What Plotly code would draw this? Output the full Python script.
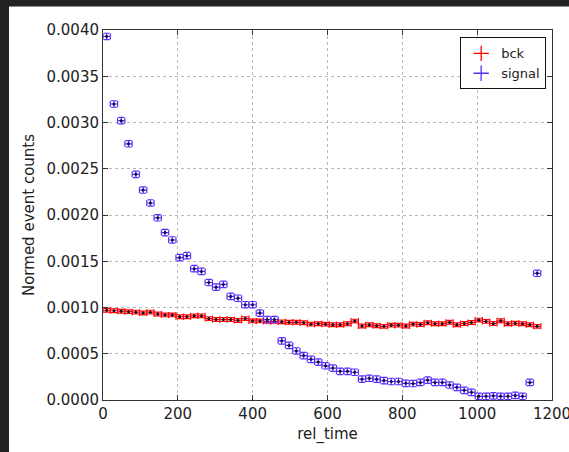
import numpy as np
import plotly.graph_objects as go

# Histogram binning of rel_time: 60 bins of width 19.5 starting at 0
bin_width = 19.5
n_bins = 60
rel_time = np.arange(n_bins) * bin_width + bin_width / 2

# Normalised event counts per bin
bck = [
    0.00097, 0.000965, 0.00096, 0.000955, 0.00095, 0.00094, 0.00095, 0.00093, 0.00092, 0.00092,
    0.00090, 0.00090, 0.00091, 0.00091, 0.00088, 0.00087, 0.00087, 0.00087, 0.00086, 0.00088,
    0.000855, 0.000855, 0.00085, 0.00085, 0.000845, 0.00084, 0.00084, 0.000835, 0.00082, 0.000825,
    0.00082, 0.000813, 0.000813, 0.000824, 0.000853, 0.0008, 0.000813, 0.000803, 0.000796, 0.000809,
    0.000809, 0.0008, 0.00082, 0.000817, 0.000835, 0.000824, 0.000824, 0.00084, 0.000813, 0.000827,
    0.000838, 0.000864, 0.00085, 0.000827, 0.000856, 0.000824, 0.00083, 0.000824, 0.000813, 0.000796,
]
signal = [
    0.00393, 0.00320, 0.00302, 0.00277, 0.00244, 0.00227, 0.00213, 0.00197, 0.00181, 0.00173,
    0.00154, 0.00156, 0.00142, 0.00139, 0.00127, 0.00122, 0.00125, 0.00112, 0.00110, 0.00103,
    0.00103, 0.00094, 0.00087, 0.00087, 0.00064, 0.00059, 0.00053, 0.00048, 0.00044, 0.00041,
    0.00037, 0.000345, 0.00031, 0.00031, 0.00030, 0.000225, 0.000235, 0.000225, 0.00021, 0.0002,
    0.0002, 0.00018, 0.000178, 0.00019, 0.000215, 0.00019, 0.00019, 0.000162, 0.000137, 0.000105,
    0.000083, 0.00004, 0.00004, 0.000045, 0.00004, 0.00004, 0.00005, 0.00004, 0.00019, 0.00137,
]
bck_err = 0.00002
signal_err = 0.000035

x_ticks = [0, 200, 400, 600, 800, 1000, 1200]
y_ticks = [0.0, 0.0005, 0.0010, 0.0015, 0.0020, 0.0025, 0.0030, 0.0035, 0.0040]

RED = "#ff0000"
BLUE = "#5a2dff"
FONT = "DejaVu Sans"
TEXT = "#222222"

fig = go.Figure()


def add_series(y, err, color, name):
    fig.add_trace(go.Scatter(
        x=rel_time, y=y, mode="markers", name=name, showlegend=False,
        marker=dict(color="#111133", size=3, line=dict(width=0)),
        error_x=dict(type="constant", value=bin_width / 2, color=color, thickness=1.2, width=3),
        error_y=dict(type="constant", value=err, color=color, thickness=1.2, width=3),
    ))
    # legend entry showing the error-bar cross
    fig.add_trace(go.Scatter(
        x=[None], y=[None], mode="markers", name=name, showlegend=True,
        marker=dict(symbol="cross-thin", size=11, line=dict(color=color, width=1.3), color=color),
    ))


add_series(bck, bck_err, RED, "bck")
add_series(signal, signal_err, BLUE, "signal")

axis_common = dict(
    showline=True, linecolor="#333333", linewidth=1, mirror="ticks",
    ticks="inside", ticklen=5, tickcolor="#333333", tickwidth=1,
    showgrid=True, gridcolor="#b8b8b8", griddash="dot", gridwidth=1,
    zeroline=False, automargin=False, tickfont=dict(family=FONT, size=15, color=TEXT),
)

fig.update_xaxes(
    range=[0, 1200], tickvals=x_ticks, ticktext=[str(v) for v in x_ticks],
    ticklabeloverflow="allow",
    title=dict(text="rel_time", font=dict(family=FONT, size=15, color=TEXT), standoff=6),
    **axis_common,
)
fig.update_yaxes(
    range=[0, 0.004], tickvals=y_ticks, ticktext=[f"{v:.4f}" for v in y_ticks],
    title=dict(text="Normed event counts", font=dict(family=FONT, size=15, color=TEXT), standoff=8),
    **axis_common,
)

fig.update_layout(
    width=569, height=452,
    margin=dict(l=103, r=17, t=30, b=52),
    paper_bgcolor="#222222", plot_bgcolor="white",
    font=dict(family=FONT, size=14, color=TEXT),
    legend=dict(
        x=0.987, y=0.98, xanchor="right", yanchor="top",
        bgcolor="white", bordercolor="#111111", borderwidth=1,
        font=dict(family=FONT, size=13, color=TEXT),
        itemwidth=30, tracegroupgap=0,
    ),
    shapes=[dict(
        type="rect", xref="paper", yref="paper",
        x0=(9 - 103) / 449, x1=(569 - 103) / 449,
        y0=-52 / 370.5, y1=(400 - 6) / 370.5,
        fillcolor="white", line=dict(width=0), layer="below",
    )],
)

fig.write_html("out.html")
